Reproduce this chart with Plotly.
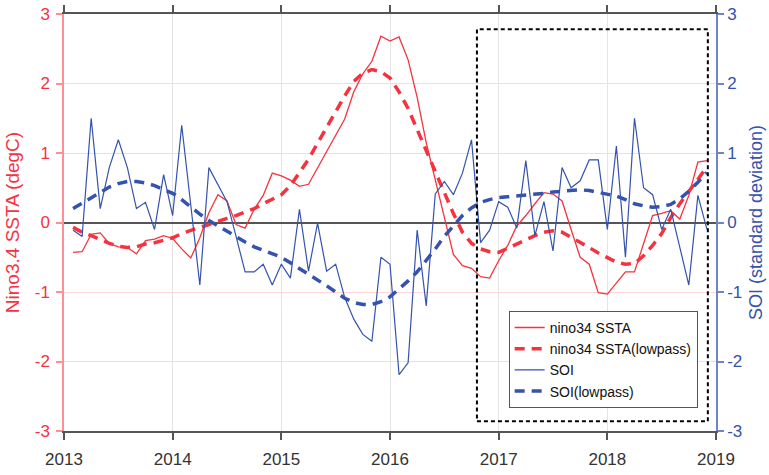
import numpy as np
import plotly.graph_objects as go

# monthly index (months after Jan 2013); time = 2013 + month/12
months = list(range(1, 72))

nino34_ssta = [-0.43, -0.42, -0.17, -0.15, -0.30, -0.35, -0.36, -0.45, -0.26, -0.24,
               -0.19, -0.23, -0.38, -0.51, -0.22, 0.14, 0.40, 0.31, -0.03, -0.08,
               0.19, 0.39, 0.71, 0.67, 0.61, 0.52, 0.55, 0.78, 1.02, 1.26,
               1.49, 1.88, 2.14, 2.32, 2.68, 2.61, 2.67, 2.34, 1.80, 1.15,
               0.60, 0.05, -0.46, -0.62, -0.66, -0.78, -0.80, -0.55, -0.33, -0.05,
               0.10, 0.27, 0.43, 0.41, 0.31, -0.10, -0.50, -0.60, -1.01, -1.03,
               -0.87, -0.71, -0.71, -0.29, 0.10, 0.13, 0.17, 0.05, 0.39, 0.87, 0.89]

nino34_lowpass = [-0.07, -0.14, -0.19, -0.25, -0.30, -0.34, -0.36, -0.35, -0.31, -0.29,
                  -0.26, -0.22, -0.16, -0.11, -0.07, -0.03, 0.02, 0.06, 0.10, 0.15,
                  0.20, 0.27, 0.34, 0.40, 0.53, 0.72, 0.91, 1.14, 1.37, 1.60,
                  1.82, 2.03, 2.15, 2.20, 2.17, 2.08, 1.88, 1.64, 1.34, 1.04,
                  0.74, 0.42, 0.13, -0.14, -0.30, -0.38, -0.42, -0.43, -0.37, -0.30,
                  -0.24, -0.19, -0.14, -0.12, -0.14, -0.21, -0.29, -0.36, -0.44, -0.51,
                  -0.57, -0.60, -0.59, -0.48, -0.33, -0.16, 0.07, 0.27, 0.45, 0.62, 0.80]

soi = [-0.11, -0.20, 1.50, 0.20, 0.79, 1.19, 0.79, 0.20, 0.29, -0.10,
       0.69, 0.10, 1.40, 0.25, -0.90, 0.79, 0.55, 0.30, -0.20, -0.71,
       -0.71, -0.60, -0.90, -0.60, -0.80, 0.19, -0.70, -0.01, -0.70, -0.60,
       -1.08, -1.39, -1.61, -1.71, -0.50, -0.60, -2.19, -2.02, -0.11, -1.20,
       0.41, 0.59, 0.40, 0.71, 1.19, -0.29, -0.11, 0.30, 0.22, -0.08,
       0.89, -0.19, 0.30, -0.41, 0.79, 0.50, 0.60, 0.90, 0.90, -0.10,
       1.10, -0.50, 1.50, 0.50, 0.40, -0.10, 0.19, -0.36, -0.90, 0.39, -0.10]

soi_lowpass = [0.20, 0.28, 0.36, 0.44, 0.51, 0.56, 0.59, 0.59, 0.57, 0.53,
               0.47, 0.42, 0.33, 0.22, 0.12, 0.03, -0.05, -0.12, -0.20, -0.28,
               -0.35, -0.40, -0.45, -0.50, -0.58, -0.66, -0.74, -0.83, -0.91, -1.00,
               -1.09, -1.15, -1.18, -1.18, -1.14, -1.07, -0.96, -0.84, -0.71, -0.55,
               -0.38, -0.20, -0.04, 0.10, 0.21, 0.29, 0.33, 0.36, 0.37, 0.38,
               0.39, 0.40, 0.42, 0.44, 0.45, 0.46, 0.47, 0.46, 0.43, 0.41,
               0.38, 0.33, 0.27, 0.24, 0.22, 0.23, 0.26, 0.34, 0.45, 0.58, 0.72]

year_ticks = [2013, 2014, 2015, 2016, 2017, 2018, 2019]
y_ticks = [-3, -2, -1, 0, 1, 2, 3]
y_tick_labels = ["-3", "-2", "-1", "0", "1", "2", "3"]
box_x = [2016.80, 2018.925]
box_y = [-2.86, 2.78]

t = 2013 + np.array(months) / 12.0

RED = "#f5333f"
BLUE = "#3552ad"
FONT = "Liberation Sans, Arial, sans-serif"

fig = go.Figure()
fig.add_trace(go.Scatter(x=t, y=nino34_ssta, mode="lines", name="nino34 SSTA",
                         line=dict(color=RED, width=1.3)))
fig.add_trace(go.Scatter(x=t, y=nino34_lowpass, mode="lines", name="nino34 SSTA(lowpass)",
                         line=dict(color=RED, width=3.5, dash="10px,7px")))
fig.add_trace(go.Scatter(x=t, y=soi, mode="lines", name="SOI", yaxis="y2",
                         line=dict(color=BLUE, width=1.2)))
fig.add_trace(go.Scatter(x=t, y=soi_lowpass, mode="lines", name="SOI(lowpass)", yaxis="y2",
                         line=dict(color=BLUE, width=3.5, dash="10px,7px")))

fig.add_shape(type="rect", xref="x", yref="y", x0=box_x[0], x1=box_x[1],
              y0=box_y[0], y1=box_y[1], line=dict(color="black", width=2, dash="4px,3px"),
              layer="above")

fig.update_layout(
    width=769, height=475,
    margin=dict(l=64, r=53, t=14, b=44, autoexpand=False),
    paper_bgcolor="white", plot_bgcolor="white",
    font=dict(family=FONT, size=16, color="#333333"),
    showlegend=True,
    legend=dict(x=0.682, y=0.288, xanchor="left", yanchor="top",
                bgcolor="white", bordercolor="#555555", borderwidth=1,
                font=dict(family=FONT, size=14, color="#111111"),
                itemwidth=30),
    xaxis=dict(range=[2013, 2019], tickvals=year_ticks, ticktext=[str(v) for v in year_ticks],
               showgrid=True, gridcolor="#e4e4e4", gridwidth=1, automargin=False,
               showline=True, linecolor="#555555", linewidth=1.5, mirror="ticks",
               ticks="outside", ticklen=7, tickcolor="#555555", tickwidth=1.5,
               ticklabelstandoff=5,
               tickfont=dict(size=17, color="#333333"), zeroline=False),
    yaxis=dict(range=[-3, 3], tickvals=y_ticks, ticktext=y_tick_labels, showgrid=True,
               gridcolor="#fdd7d9", automargin=False,
               gridwidth=1, zeroline=True, zerolinecolor="#555555", zerolinewidth=1.5,
               showline=True, linecolor="#ff8f95", linewidth=1.5,
               ticks="outside", ticklen=6, tickcolor="#ff8f95", tickwidth=1.5,
               ticklabelstandoff=3,
               tickfont=dict(size=17, color=RED),
               title=dict(text="Nino3.4 SSTA (degC)", font=dict(size=19, color=RED), standoff=10)),
    yaxis2=dict(range=[-3, 3], tickvals=y_ticks, ticktext=y_tick_labels, overlaying="y", side="right",
                showgrid=False, zeroline=False, automargin=False,
                showline=True, linecolor="#6f85c8", linewidth=1.5,
                ticks="outside", ticklen=6, tickcolor="#6f85c8", tickwidth=1.5,
                tickfont=dict(size=17, color=BLUE),
                title=dict(text="SOI (standard deviation)", font=dict(size=18, color=BLUE), standoff=8)),
)

fig.write_html("out.html", config={"displayModeBar": False},
               post_script="document.body.style.margin='0px';")
